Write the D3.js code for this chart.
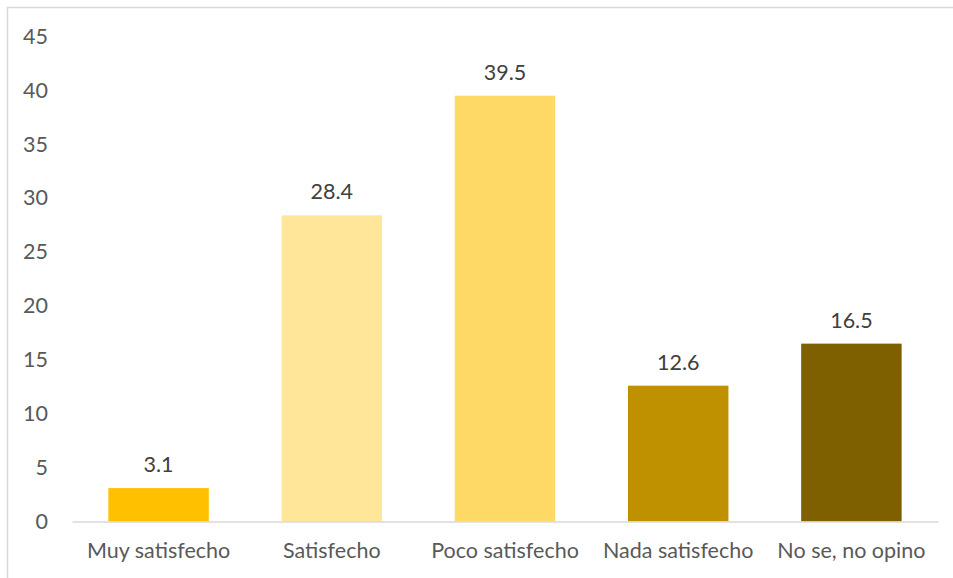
<!DOCTYPE html>
<html>
<head>
<meta charset="utf-8">
<script src="https://cdn.jsdelivr.net/npm/d3@7/dist/d3.min.js"></script>
<style>
  html, body { margin: 0; padding: 0; background: #fff; }
  svg { display: block; }
  text { font-family: Lato, "Open Sans", sans-serif; }
</style>
</head>
<body>
<svg id="chart" width="953" height="578"></svg>
<script>
// Satisfaction levels and their shares (%)
const categories = ["Muy satisfecho", "Satisfecho", "Poco satisfecho", "Nada satisfecho", "No se, no opino"];
const values = [3.1, 28.4, 39.5, 12.6, 16.5];
const colors = ["#FFC000", "#FFE699", "#FFD966", "#BF9000", "#7F6000"];
const yTicks = [0, 5, 10, 15, 20, 25, 30, 35, 40, 45];

const svg = d3.select("#chart");
const W = 953, H = 578;
const fontSize = "21.5px";

// outer chart frame
svg.append("rect")
  .attr("x", 7.5).attr("y", 7.5)
  .attr("width", W + 10).attr("height", H + 10)
  .attr("fill", "none").attr("stroke", "#d9d9d9").attr("stroke-width", 1.5);

const x = d3.scaleBand()
  .domain(categories)
  .range([72, 938])
  .paddingInner(0.42)
  .paddingOuter(0.21);

const y = d3.scaleLinear().domain([0, 45]).range([521.5, 36.4]);

// y axis labels (no axis line)
const yAxis = svg.append("g")
  .attr("transform", "translate(48,0)")
  .call(d3.axisLeft(y).tickValues(yTicks).tickSize(0).tickPadding(0));
yAxis.select(".domain").remove();
yAxis.selectAll("text")
  .attr("fill", "#595959").style("font-size", fontSize);

// bars
svg.append("g").selectAll("rect")
  .data(values)
  .join("rect")
  .attr("x", (d, i) => x(categories[i]))
  .attr("y", d => y(d))
  .attr("width", x.bandwidth())
  .attr("height", d => y(0) - y(d))
  .attr("fill", (d, i) => colors[i]);

// baseline and category labels
const xAxis = svg.append("g")
  .attr("transform", `translate(0,${y(0)})`)
  .call(d3.axisBottom(x).tickSize(0).tickPadding(21));
xAxis.select(".domain").attr("stroke", "#d9d9d9").attr("stroke-width", 1.5);
xAxis.selectAll("text")
  .attr("fill", "#595959").style("font-size", fontSize);

// value labels
svg.append("g").selectAll("text")
  .data(values)
  .join("text")
  .attr("x", (d, i) => x(categories[i]) + x.bandwidth() / 2)
  .attr("y", d => y(d) - 16)
  .attr("text-anchor", "middle")
  .attr("fill", "#404040")
  .style("font-size", fontSize)
  .text(d => d.toFixed(1));
</script>
</body>
</html>
